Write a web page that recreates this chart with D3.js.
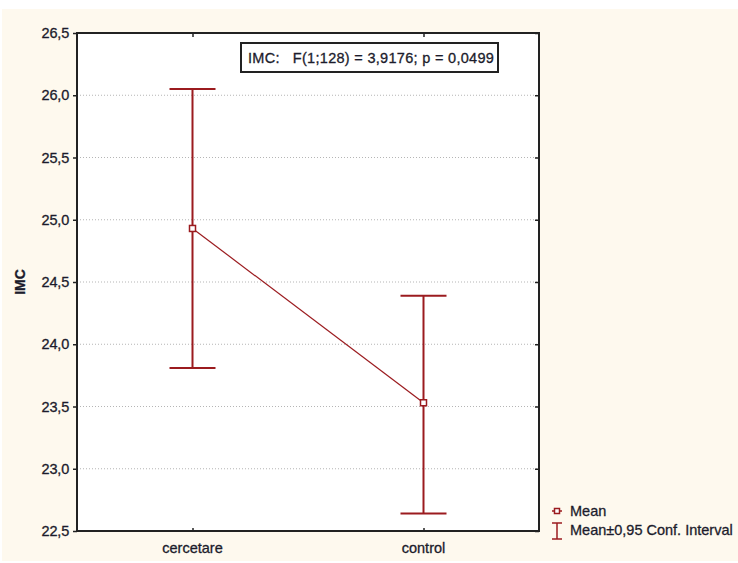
<!DOCTYPE html>
<html>
<head>
<meta charset="utf-8">
<script src="https://cdn.jsdelivr.net/npm/d3@7"></script>
<style>
  body { margin: 0; background: #fff; }
  text { font-family: "Liberation Sans", Arial, sans-serif; fill: #1c1c2c; stroke: #1c1c2c; stroke-width: 0.3; }
</style>
</head>
<body>
<div id="d3"></div>
<script>
// data
const groups = ["cercetare", "control"];
const means = [24.93, 23.53];
const lower = [23.81, 22.64];
const upper = [26.05, 24.39];
const yTicks = [22.5, 23.0, 23.5, 24.0, 24.5, 25.0, 25.5, 26.0, 26.5];
const annot = "IMC:   F(1;128) = 3,9176; p = 0,0499";
const legendLabels = ["Mean", "Mean±0,95 Conf. Interval"];

const W = 738, H = 563;
const margin = {top: 33, right: 199, bottom: 32, left: 77},
    width = W - margin.left - margin.right,
    height = H - margin.top - margin.bottom;
const red = "#9b1b1f";
const fs = 14.5;
const fmt = d => d.toFixed(1).replace(".", ",");

const root = d3.select("#d3").append("svg")
    .attr("width", W)
    .attr("height", H);

// cream backdrop
root.append("rect")
    .attr("x", 2).attr("y", 9)
    .attr("width", W - 2).attr("height", H - 11)
    .attr("fill", "#fef9ee");

const svg = root.append("g")
    .attr("transform", `translate(${margin.left},${margin.top})`);

svg.append("rect")
    .attr("width", width).attr("height", height)
    .attr("fill", "#fff");

const x = d3.scalePoint()
    .domain(groups)
    .range([0, width])
    .padding(0.5);

const y = d3.scaleLinear()
    .domain([22.5, 26.5])
    .range([height, 0]);

// dotted grid
svg.append("g")
  .selectAll("line")
  .data(yTicks.slice(1, -1))
  .join("line")
    .attr("x1", 0).attr("x2", width)
    .attr("y1", d => y(d)).attr("y2", d => y(d))
    .attr("stroke", "#b5b5b5")
    .attr("stroke-dasharray", "1,2");

// left axis, ticks outward
const yAxis = svg.append("g")
    .call(d3.axisLeft(y).tickValues(yTicks).tickFormat(fmt).tickSize(4).tickPadding(4));
yAxis.select(".domain").remove();
yAxis.selectAll("line").attr("stroke", "#222").attr("stroke-width", 1.5);
yAxis.selectAll("text")
    .attr("font-size", fs)
    .attr("fill", "#1c1c2c")
    .attr("letter-spacing", -0.2);

// right axis, ticks inward
const yAxisR = svg.append("g")
    .attr("transform", `translate(${width},0)`)
    .call(d3.axisLeft(y).tickValues(yTicks).tickSize(4).tickFormat(""));
yAxisR.select(".domain").remove();
yAxisR.selectAll("line").attr("stroke", "#222").attr("stroke-width", 1.5);

// bottom axis, ticks inward
const xAxis = svg.append("g")
    .attr("transform", `translate(0,${height})`)
    .call(d3.axisTop(x).tickSize(3).tickFormat(""));
xAxis.select(".domain").remove();
xAxis.selectAll("line").attr("stroke", "#222").attr("stroke-width", 1.5);

svg.append("g")
  .selectAll("text")
  .data(groups)
  .join("text")
    .attr("x", d => x(d))
    .attr("y", height + 22)
    .attr("text-anchor", "middle")
    .attr("font-size", fs)
    .text(d => d);

// top axis, ticks inward
const xAxisT = svg.append("g")
    .call(d3.axisBottom(x).tickSize(4).tickFormat(""));
xAxisT.select(".domain").remove();
xAxisT.selectAll("line").attr("stroke", "#222").attr("stroke-width", 1.5);

// frame
svg.append("rect")
    .attr("width", width).attr("height", height)
    .attr("fill", "none")
    .attr("stroke", "#222")
    .attr("stroke-width", 2);

// y title
root.append("text")
    .attr("transform", `translate(25,${margin.top + height / 2}) rotate(-90)`)
    .attr("text-anchor", "middle")
    .attr("font-size", 14)
    .attr("font-weight", "bold")
    .text("IMC");

// error bars
const pts = groups.map((g, i) => ({g, m: means[i], lo: lower[i], hi: upper[i]}));
const bars = svg.append("g").selectAll("g").data(pts).join("g");
bars.append("line")
    .attr("x1", d => x(d.g)).attr("x2", d => x(d.g))
    .attr("y1", d => y(d.lo)).attr("y2", d => y(d.hi))
    .attr("stroke", red).attr("stroke-width", 2);
bars.selectAll(".cap")
  .data(d => [d.lo, d.hi].map(v => ({g: d.g, v})))
  .join("line")
    .attr("x1", d => x(d.g) - 23).attr("x2", d => x(d.g) + 23)
    .attr("y1", d => y(d.v)).attr("y2", d => y(d.v))
    .attr("stroke", red).attr("stroke-width", 2);

// mean line
svg.append("path")
    .datum(pts)
    .attr("fill", "none")
    .attr("stroke", red)
    .attr("stroke-width", 1.2)
    .attr("d", d3.line().x(d => x(d.g)).y(d => y(d.m)));

svg.append("g")
  .selectAll("rect")
  .data(pts)
  .join("rect")
    .attr("x", d => x(d.g) - 3).attr("y", d => y(d.m) - 3)
    .attr("width", 6).attr("height", 6)
    .attr("fill", "#fff")
    .attr("stroke", red).attr("stroke-width", 1.5);

// annotation box
root.append("rect")
    .attr("x", 241).attr("y", 43)
    .attr("width", 257).attr("height", 29)
    .attr("fill", "#fff")
    .attr("stroke", "#222").attr("stroke-width", 2);
root.append("text")
    .attr("x", 248).attr("y", 63)
    .attr("font-size", fs)
    .attr("letter-spacing", 0.3)
    .style("white-space", "pre")
    .text(annot);

// legend
const lg = root.append("g").attr("transform", "translate(552,511)");
lg.append("line").attr("x1", 0).attr("x2", 10).attr("y1", 0).attr("y2", 0)
    .attr("stroke", red).attr("stroke-width", 1.5);
lg.append("rect").attr("x", 2.5).attr("y", -2.5).attr("width", 5).attr("height", 5)
    .attr("fill", "#fff").attr("stroke", red).attr("stroke-width", 1.5);
const ci = lg.append("g").attr("transform", "translate(0,20)");
ci.append("line").attr("x1", 5).attr("x2", 5).attr("y1", -8).attr("y2", 8)
    .attr("stroke", red).attr("stroke-width", 1.5);
ci.selectAll(".c").data([-8, 8]).join("line")
    .attr("x1", 0).attr("x2", 10).attr("y1", d => d).attr("y2", d => d)
    .attr("stroke", red).attr("stroke-width", 1.5);
lg.selectAll(".lt")
  .data(legendLabels)
  .join("text")
    .attr("x", 18)
    .attr("y", (d, i) => i * 19 + 5)
    .attr("font-size", fs)
    .text(d => d);
</script>
</body>
</html>
